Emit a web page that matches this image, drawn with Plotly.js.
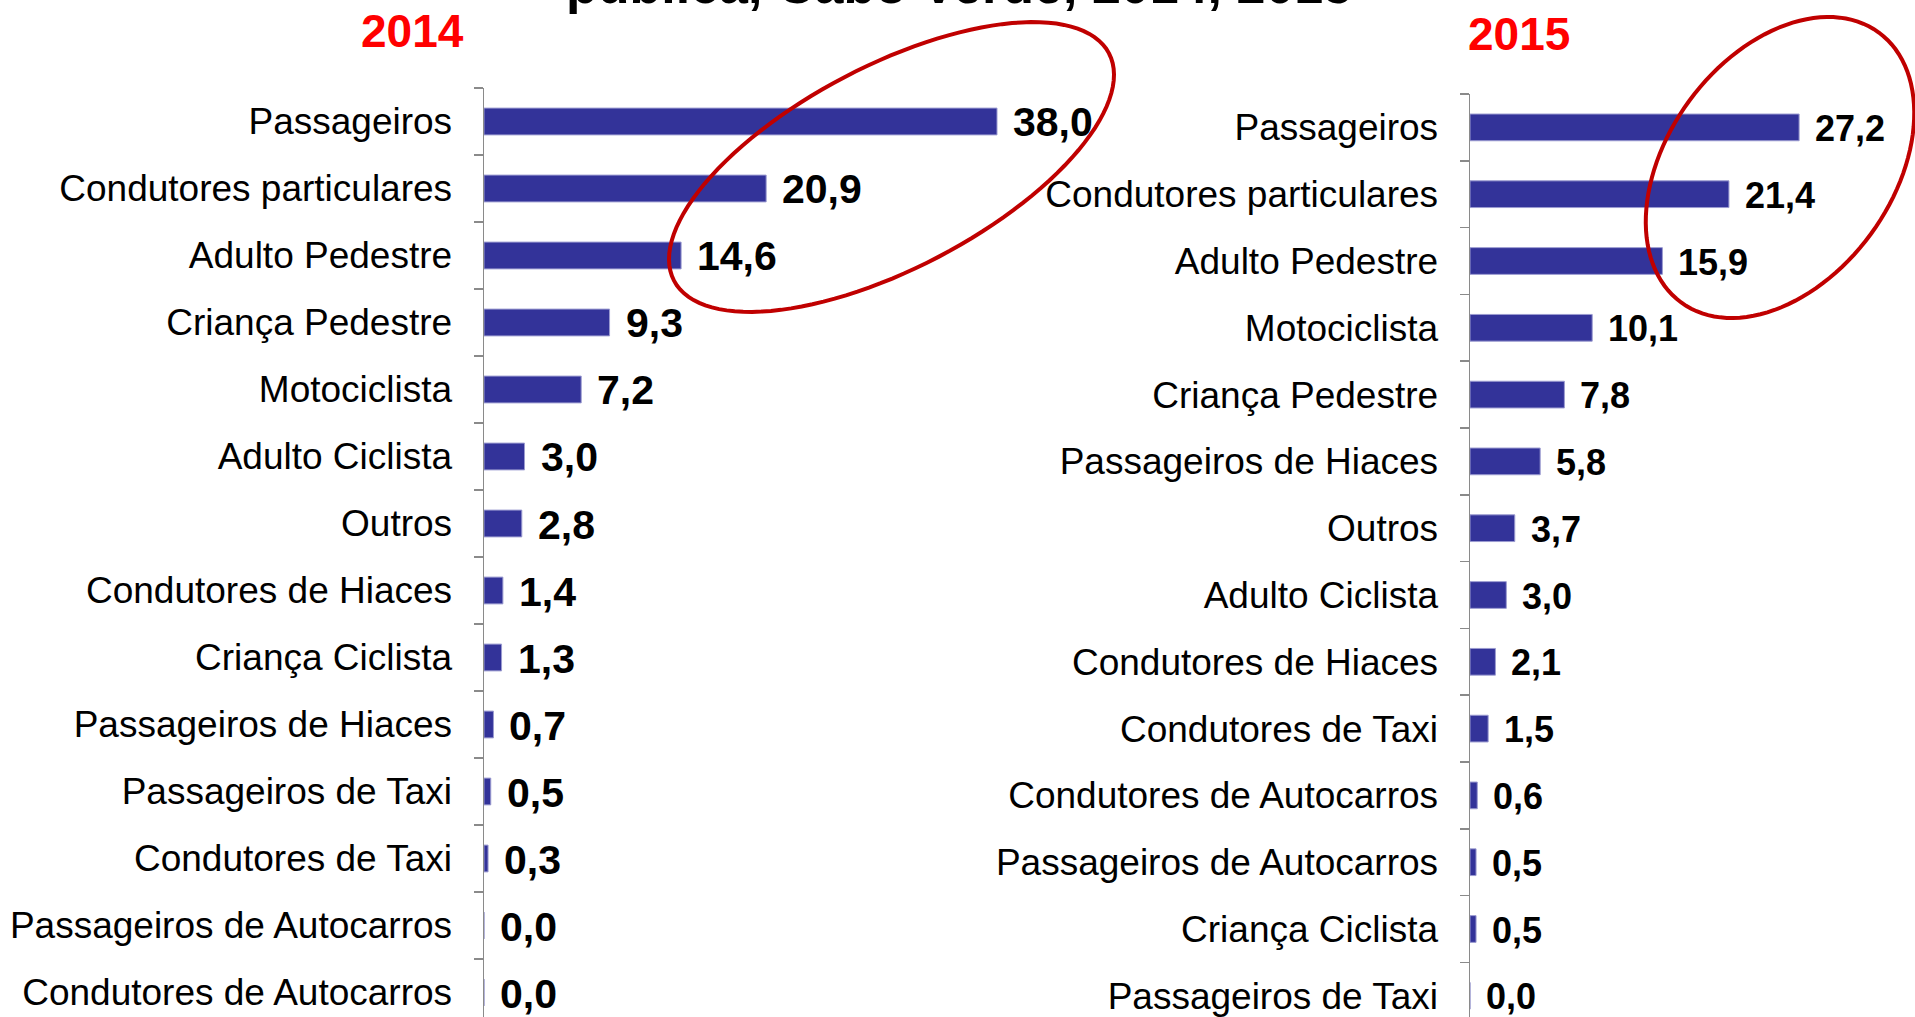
<!DOCTYPE html>
<html>
<head>
<meta charset="utf-8">
<script src="https://cdn.plot.ly/plotly-3.0.1.min.js"></script>
<style>
  html, body { margin: 0; padding: 0; background: #fff; }
  #chart { width: 1915px; height: 1017px; }
</style>
</head>
<body>
<div id="chart"></div>
<script>
// ---- Data ----
const title2014 = "2014";
const title2015 = "2015";
const chartTitle = "pública, Cabo Verde, 2014, 2015";

const categories2014 = [
  "Passageiros", "Condutores particulares", "Adulto Pedestre", "Criança Pedestre",
  "Motociclista", "Adulto Ciclista", "Outros", "Condutores de Hiaces",
  "Criança Ciclista", "Passageiros de Hiaces", "Passageiros de Taxi",
  "Condutores de Taxi", "Passageiros de Autocarros", "Condutores de Autocarros"
];
const values2014 = [38.0, 20.9, 14.6, 9.3, 7.2, 3.0, 2.8, 1.4, 1.3, 0.7, 0.5, 0.3, 0.0, 0.0];

const categories2015 = [
  "Passageiros", "Condutores particulares", "Adulto Pedestre", "Motociclista",
  "Criança Pedestre", "Passageiros de Hiaces", "Outros", "Adulto Ciclista",
  "Condutores de Hiaces", "Condutores de Taxi", "Condutores de Autocarros",
  "Passageiros de Autocarros", "Criança Ciclista", "Passageiros de Taxi"
];
const values2015 = [27.2, 21.4, 15.9, 10.1, 7.8, 5.8, 3.7, 3.0, 2.1, 1.5, 0.6, 0.5, 0.5, 0.0];

// ---- Layout helpers ----
const W = 1915, H = 1017;
const FONT = "Liberation Sans, Arial, sans-serif";
const BAR = "#333399";
const RED_EL = "#C00000";
const fmt = v => v.toFixed(1).replace(".", ",");

function ellipsePath(cx, cy, a, b, deg) {
  const t = deg * Math.PI / 180, n = 120;
  let d = "";
  for (let i = 0; i <= n; i++) {
    const s = 2 * Math.PI * i / n;
    const px = cx + a * Math.cos(s) * Math.cos(t) + b * Math.sin(s) * Math.sin(t);
    const py = cy - a * Math.cos(s) * Math.sin(t) + b * Math.sin(s) * Math.cos(t);
    d += (i === 0 ? "M" : "L") + (px / W).toFixed(5) + "," + (1 - py / H).toFixed(5);
  }
  return d + "Z";
}

const traces = [
  {
    type: "bar", orientation: "h",
    x: values2014, y: categories2014,
    xaxis: "x", yaxis: "y",
    width: 0.4,
    marker: { color: BAR, line: { color: "#9b9bd0", width: 1 } },
    hoverinfo: "skip"
  },
  {
    type: "bar", orientation: "h",
    x: values2015, y: categories2015,
    xaxis: "x2", yaxis: "y2",
    width: 0.4,
    marker: { color: BAR, line: { color: "#9b9bd0", width: 1 } },
    hoverinfo: "skip"
  }
];

const annotations = [];
values2014.forEach((v, i) => annotations.push({
  xref: "x", yref: "y", x: v, y: categories2014[i],
  text: fmt(v), showarrow: false, xanchor: "left", yanchor: "middle", xshift: 14, yshift: -1,
  font: { family: FONT, size: 41, color: "#000", weight: "bold" }
}));
values2015.forEach((v, i) => annotations.push({
  xref: "x2", yref: "y2", x: v, y: categories2015[i],
  text: fmt(v), showarrow: false, xanchor: "left", yanchor: "middle", xshift: 14, yshift: -1,
  font: { family: FONT, size: 36, color: "#000", weight: "bold" }
}));
annotations.push({
  xref: "paper", yref: "paper", x: 412 / W, y: 1 - 31 / H,
  text: "<b>" + title2014 + "</b>", showarrow: false, xanchor: "center", yanchor: "middle",
  font: { family: FONT, size: 46, color: "#FF0000" }
});
annotations.push({
  xref: "paper", yref: "paper", x: 1519 / W, y: 1 - 34 / H,
  text: "<b>" + title2015 + "</b>", showarrow: false, xanchor: "center", yanchor: "middle",
  font: { family: FONT, size: 46, color: "#FF0000" }
});
annotations.push({
  xref: "paper", yref: "paper", x: 959 / W, y: 1,
  text: "<b>" + chartTitle + "</b>", showarrow: false, xanchor: "center", yanchor: "bottom", yshift: -16,
  font: { family: FONT, size: 52, color: "#000" }
});

const yCommon = {
  type: "category",
  showline: true, linecolor: "#8a8a8a", linewidth: 1.5,
  ticks: "outside", tickson: "boundaries", ticklen: 9, tickcolor: "#8a8a8a", tickwidth: 1.5,
  tickfont: { family: FONT, size: 37, color: "#000" },
  ticklabelstandoff: 23,
  showgrid: false, zeroline: false, fixedrange: true
};

const layout = {
  width: W, height: H,
  margin: { l: 0, r: 0, t: 0, b: 0 },
  paper_bgcolor: "#fff", plot_bgcolor: "rgba(0,0,0,0)",
  showlegend: false,
  separators: ",.",
  font: { family: FONT },
  xaxis: { domain: [484 / W, (484 + 13.5 * 40) / W], range: [0, 40], visible: false, fixedrange: true },
  xaxis2: { domain: [1470 / W, (1470 + 12.1 * 36) / W], range: [0, 36], visible: false, fixedrange: true },
  yaxis: Object.assign({}, yCommon, {
    domain: [0, 1 - 88 / H], anchor: "x",
    categoryorder: "array", categoryarray: categories2014,
    range: [-0.5 + (H - 88) / 67, -0.5]
  }),
  yaxis2: Object.assign({}, yCommon, {
    domain: [0, 1 - 94 / H], anchor: "x2",
    categoryorder: "array", categoryarray: categories2015,
    range: [-0.5 + (H - 94) / 66.8, -0.5]
  }),
  annotations: annotations,
  shapes: [
    { type: "path", xref: "paper", yref: "paper", layer: "above",
      path: ellipsePath(891.5, 167, 245.4, 101.4, 27.6),
      line: { color: RED_EL, width: 4 }, fillcolor: "rgba(0,0,0,0)" },
    { type: "path", xref: "paper", yref: "paper", layer: "above",
      path: ellipsePath(1780, 167.5, 167.3, 112.6, 53.8),
      line: { color: RED_EL, width: 4 }, fillcolor: "rgba(0,0,0,0)" }
  ]
};

Plotly.newPlot("chart", traces, layout, { displayModeBar: false, staticPlot: true });
</script>
</body>
</html>
